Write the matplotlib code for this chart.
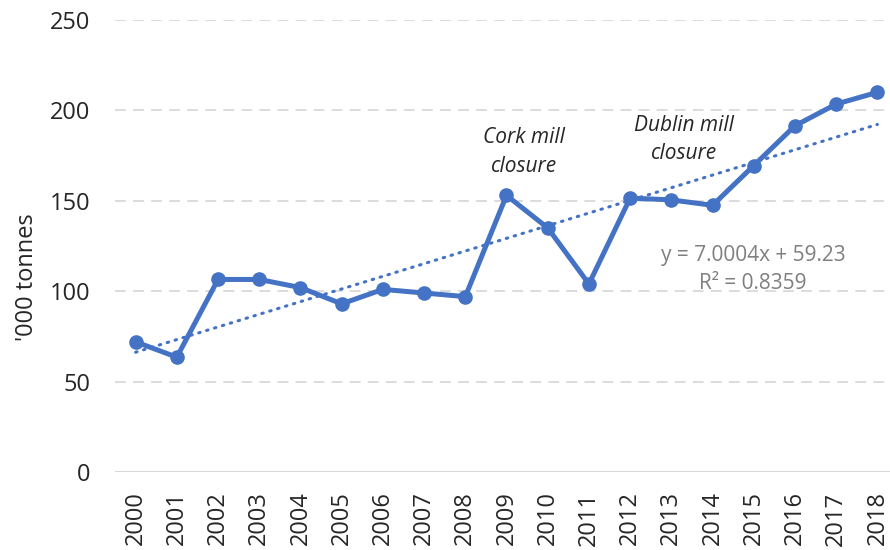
import numpy as np
import matplotlib
matplotlib.use("Agg")
import matplotlib.pyplot as plt

# data
years = [str(y) for y in range(2000, 2019)]
tonnes = [72, 63.5, 106.5, 106.5, 102, 93, 101, 99, 97, 153, 135, 104,
          151.5, 150.5, 147.5, 169.5, 191.5, 203.5, 210]
slope, intercept, r2 = 7.0004, 59.23, 0.8359
yticks = [0, 50, 100, 150, 200, 250]

blue = "#4472C4"
plt.rcParams["font.family"] = ["Open Sans", "DejaVu Sans"]

fig = plt.figure(figsize=(8.9, 5.5), dpi=100)
ax = fig.add_axes([115 / 890, 78 / 550, 783 / 890, 452 / 550])

x = np.arange(len(years))
trend = slope * (x + 1) + intercept  # excel trendline uses 1..n

ax.plot(x, trend, color=blue, lw=2.2, linestyle=(0, (0.5, 2.2)),
        dash_capstyle="round", zorder=2)
ax.plot(x, tonnes, color=blue, lw=3.6, marker="o", markersize=9.5, zorder=3)

ax.set_xlim(-0.5, len(years) - 0.5)
ax.set_ylim(0, 250)
ax.set_yticks(yticks)
ax.set_xticks(x)
ax.set_xticklabels(years, rotation=90)
ax.tick_params(axis="both", length=0, labelsize=17, colors="#262626")
ax.tick_params(axis="y", pad=18)
ax.tick_params(axis="x", pad=14)

for s in ax.spines.values():
    s.set_visible(False)
for t in yticks[1:]:
    ax.axhline(t, color="#d9d9d9", lw=1.3, linestyle=(0, (6, 4)), zorder=0)
ax.axhline(0, color="#d9d9d9", lw=1.5, zorder=0)

fig.text(27 / 890, 1 - 277 / 550, "'000 tonnes", rotation=90, fontsize=17,
         color="#262626", ha="center", va="center")

# annotations
ax.text(9.43, 177, "Cork mill\nclosure", style="italic", fontsize=15,
        ha="center", va="center", color="#262626", linespacing=1.45)
ax.text(13.3, 184, "Dublin mill\nclosure", style="italic", fontsize=15,
        ha="center", va="center", color="#262626", linespacing=1.45)
ax.text(14.98, 120, "y = %.4fx + %.2f" % (slope, intercept), fontsize=15,
        ha="center", va="center", color="#7f7f7f")
ax.text(14.98, 104.5, "R² = %.4f" % r2, fontsize=15,
        ha="center", va="center", color="#7f7f7f")

fig.savefig("out.png", dpi=100)
